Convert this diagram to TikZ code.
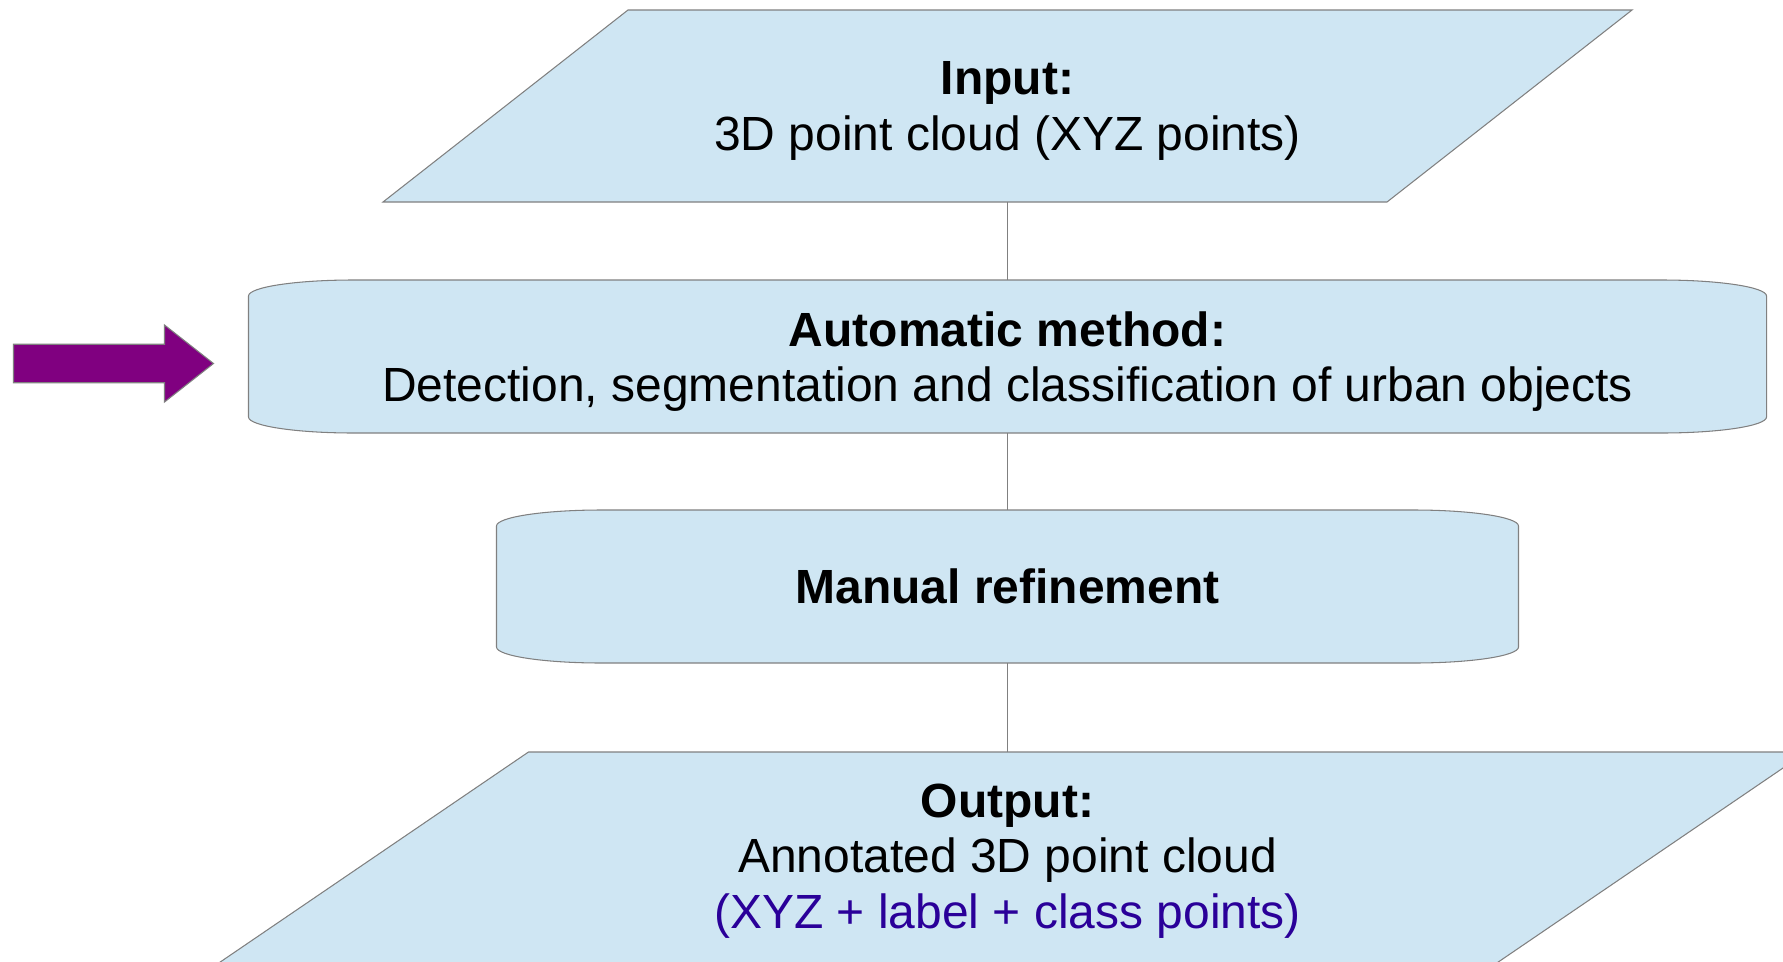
\documentclass[tikz,border=0pt]{standalone}
\usepackage{fontspec}
\setmainfont{Liberation Sans}
\usepackage{tikz}
\usetikzlibrary{positioning,backgrounds}
\definecolor{boxfill}{HTML}{CFE6F3}
\definecolor{edge}{HTML}{808080}
\definecolor{plum}{HTML}{800080}
\definecolor{indigo}{HTML}{2A0099}

\begin{document}
\begin{tikzpicture}[
				every node/.style={font=\fontsize{27.3}{31.5}\selectfont},
				io/.style={align=center,inner sep=0pt,outer sep=0pt,minimum width=#1},
				stage/.style={align=center,inner sep=0pt,outer sep=0pt,minimum width=#1,minimum height=3.06cm},
				shell/.style={draw=edge,line width=0.6pt,fill=boxfill},
				link/.style={line width=0.6pt,edge}]

				\path[use as bounding box,clip] (0,0) rectangle (35.66,-19.22);

				\node[io=20.08cm,minimum height=3.84cm,text depth=0pt] (in) at (20.15,-2.12)
				{\textbf{Input:}\\3D point cloud (XYZ points)};
				\node[stage=30.36cm,text depth=0pt,below=1.56cm of in] (auto)
				{\textbf{Automatic method:}\\Detection, segmentation and classification of urban objects};
				\node[stage=20.44cm,below=1.54cm of auto] (manual) {\textbf{Manual refinement}};
				\node[io=25.56cm,minimum height=4.36cm,below=1.78cm of manual] (out)
				{\textbf{Output:}\\Annotated 3D point cloud\\{\color{indigo}(XYZ + label + class points)}};

				% slanted input/output and curved stages, behind the text
				\begin{scope}[on background layer]
					\foreach \b/\s in {in/2.45cm,out/3.2cm}
						\draw[shell] ([xshift=-\s]\b.south west) -- ([xshift=-\s]\b.south east)
						-- ([xshift=\s]\b.north east) -- ([xshift=\s]\b.north west) -- cycle;
					\foreach \b in {auto,manual}
						\draw[shell] ([xshift=2.1cm]\b.north west) -- ([xshift=-2.1cm]\b.north east)
						arc[start angle=90,end angle=0,x radius=2.1cm,y radius=0.32cm]
						-- ([yshift=0.32cm]\b.south east)
						arc[start angle=0,end angle=-90,x radius=2.1cm,y radius=0.32cm]
						-- ([xshift=2.1cm]\b.south west)
						arc[start angle=270,end angle=180,x radius=2.1cm,y radius=0.32cm]
						-- ([yshift=-0.32cm]\b.north west)
						arc[start angle=180,end angle=90,x radius=2.1cm,y radius=0.32cm] -- cycle;
				\end{scope}

				\coordinate (tip) at ([xshift=-0.7cm,yshift=-0.14cm]auto.west);
				\draw[draw=edge,line width=0.6pt,fill=plum] (tip) -- ++(-0.98,0.77) -- ++(0,-0.385)
				-- ++(-3.02,0) -- ++(0,-0.77) -- ++(3.02,0) -- ++(0,-0.385) -- cycle;

				\draw[link] (in) -- (auto);
				\draw[link] (auto) -- (manual);
				\draw[link] (manual) -- (out);
			\end{tikzpicture}
\end{document}
